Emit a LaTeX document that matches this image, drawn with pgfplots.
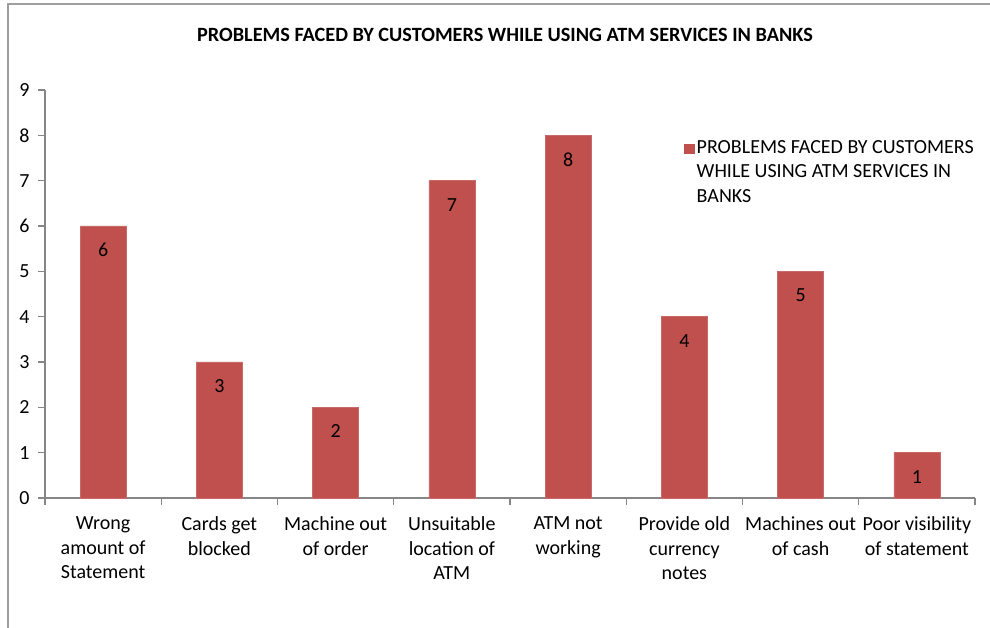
\documentclass[border=0pt]{standalone}
\usepackage{pgfplots}
\pgfplotsset{compat=1.18}
\usepackage{fontspec}
\setmainfont{Carlito}
\definecolor{barred}{HTML}{C0504D}
\definecolor{axgray}{HTML}{868686}
\begin{document}
\begin{tikzpicture}[x=1pt,y=1pt]
\useasboundingbox (0,0) rectangle (742.5,471);
\draw[axgray!80, line width=0.8pt] (6,0) -- (6,468) -- (742.5,468);
\node[font=\fontsize{15.2}{18}\selectfont\bfseries] at (378.75,444.5) {PROBLEMS FACED BY CUSTOMERS WHILE USING ATM SERVICES IN BANKS};
\begin{axis}[
  at={(33.75pt,97.5pt)}, anchor=south west,
  width=697.5pt, height=306pt, scale only axis,
  xmin=-0.5, xmax=7.5, ymin=0, ymax=9,
  ybar, bar width=34.5pt,
  axis x line*=bottom, axis y line*=left,
  axis line style={axgray, line width=0.9pt, -},
  ytick={0,...,9},
  xtick={0,...,7},
  xticklabels={{Wrong\\amount of\\Statement},{Cards get\\blocked},{Machine out\\of order},{Unsuitable\\location of\\ATM},{ATM not\\working},{Provide old\\currency\\notes},{Machines out\\of cash},{Poor visibility\\of statement}},
  x tick label style={align=center, font=\fontsize{15}{18.4}\selectfont, yshift=-5.5pt},
  y tick label style={font=\fontsize{15}{18}\selectfont, xshift=-3pt},
  /pgf/number format/assume math mode=true,
  major x tick style={draw=none},
  minor xtick={-0.5,0.5,...,7.5},
  tick align=outside,
  major tick length=5pt, minor tick length=5pt,
  every tick/.style={axgray, line width=0.9pt},
  minor tick style={axgray, line width=0.9pt},
  major y tick style={axgray, line width=0.9pt},
  nodes near coords,
  every node near coord/.append style={anchor=center, yshift=-18pt, font=\fontsize{15}{18}\selectfont, text=black},
  legend style={draw=none, fill=none, at={(0.683,0.89)}, anchor=north west, cells={align=left}, font=\fontsize{15}{18.4}\selectfont},
  legend cell align=left,
  clip=false,
]
\addplot[fill=barred, draw=barred!85!white, legend image code/.code={\fill[barred] (0pt,14.6pt) rectangle (6.8pt,21.4pt);}] coordinates {(0,6) (1,3) (2,2) (3,7) (4,8) (5,4) (6,5) (7,1)};
\addlegendentry{PROBLEMS FACED BY CUSTOMERS\\WHILE USING ATM SERVICES IN\\BANKS}
\end{axis}
\end{tikzpicture}
\end{document}
